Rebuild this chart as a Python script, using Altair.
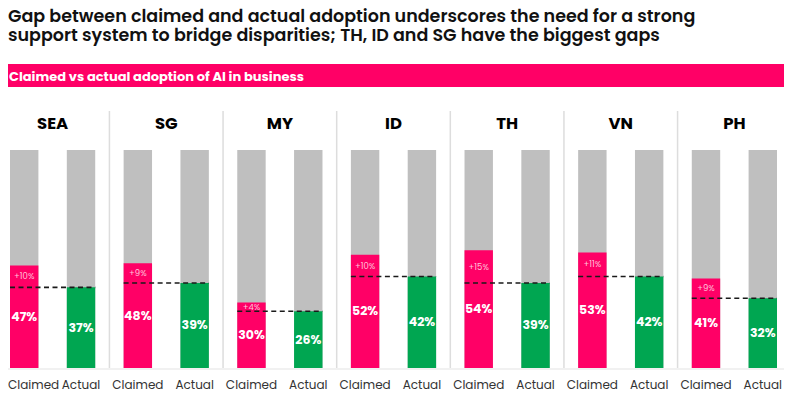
import altair as alt
import pandas as pd

# ---- data ----
countries = ["SEA", "SG", "MY", "ID", "TH", "VN", "PH"]
claimed = [47, 48, 30, 52, 54, 53, 41]
actual = [37, 39, 26, 42, 39, 42, 32]
gaps = [10, 9, 4, 10, 15, 11, 9]
types = ["Claimed", "Actual"]

title_lines = [
    "Gap between claimed and actual adoption underscores the need for a strong",
    "support system to bridge disparities; TH, ID and SG have the biggest gaps",
]
subtitle = "Claimed vs actual adoption of AI in business"

PINK = "#FF0066"
GREEN = "#00A651"
GRAY = "#BFBFBF"
FONT = "Poppins, Inter, sans-serif"

W, H = 776, 389

# ---- tables ----
keys = [f"{c}|{t}" for c in countries for t in types]
long_rows = []
for c, cl, ac in zip(countries, claimed, actual):
    long_rows.append({"country": c, "type": "Claimed", "key": f"{c}|Claimed", "value": cl})
    long_rows.append({"country": c, "type": "Actual", "key": f"{c}|Actual", "value": ac})
long_df = pd.DataFrame(long_rows)

country_df = pd.DataFrame({
    "country": countries,
    "claimed": claimed,
    "actual": actual,
    "gap": gaps,
    "ckey": [f"{c}|Claimed" for c in countries],
    "akey": [f"{c}|Actual" for c in countries],
})
sep_df = country_df.iloc[:-1]

xscale = alt.Scale(domain=keys, range=[2, 769], paddingInner=0.5, paddingOuter=0)
yscale = alt.Scale(domain=[0, 100], range=[360, 142])
STEP_HALF = 767 / 13.5 / 2

base = alt.Chart(long_df)

bg = base.mark_bar(color=GRAY).encode(
    x=alt.X("key:N", scale=xscale, axis=None),
    y=alt.Y(datum=100, scale=yscale, axis=None),
    y2=alt.datum(0),
)

bars = base.mark_bar().encode(
    x=alt.X("key:N", scale=xscale, axis=None),
    y=alt.Y("value:Q", scale=yscale, axis=None),
    y2=alt.datum(0),
    color=alt.Color("type:N", scale=alt.Scale(domain=types, range=[PINK, GREEN]), legend=None),
)

vlabels = base.transform_calculate(
    mid="datum.value / 2", lab="datum.value + '%'"
).mark_text(color="white", fontSize=12.5, fontWeight="bold", font=FONT, baseline="middle").encode(
    x=alt.X("key:N", scale=xscale, axis=None),
    y=alt.Y("mid:Q", scale=yscale, axis=None),
    text="lab:N",
)

cats = base.transform_filter(alt.datum.key != keys[0]).mark_text(
    color="#333333", fontSize=12, font=FONT, baseline="alphabetic").encode(
    x=alt.X("key:N", scale=xscale, axis=None),
    y=alt.value(381),
    text="type:N",
)
cats_first = base.transform_filter(alt.datum.key == keys[0]).mark_text(
    color="#333333", fontSize=12, font=FONT, baseline="alphabetic", align="left", dx=-2).encode(
    x=alt.X("key:N", scale=xscale, axis=None, bandPosition=0),
    y=alt.value(381),
    text="type:N",
)

cbase = alt.Chart(country_df)

gap_labels = cbase.transform_calculate(
    gmid="(datum.claimed + datum.actual) / 2", glab="'+' + datum.gap + '%'"
).mark_text(color="#FFC2DA", fontSize=8.5, font=FONT, baseline="middle").encode(
    x=alt.X("ckey:N", scale=xscale, axis=None),
    y=alt.Y("gmid:Q", scale=yscale, axis=None),
    text="glab:N",
)

dash = cbase.mark_rule(color="#1a1a1a", strokeWidth=1.6, strokeDash=[5, 3.5]).encode(
    x=alt.X("ckey:N", scale=xscale, axis=None, bandPosition=0),
    x2=alt.X2("akey:N", bandPosition=1),
    y=alt.Y("actual:Q", scale=yscale, axis=None),
)

panel_titles = cbase.mark_text(fontSize=16.5, fontWeight="bold", font=FONT, color="#000000",
                               baseline="alphabetic", dx=STEP_HALF).encode(
    x=alt.X("ckey:N", scale=xscale, axis=None),
    y=alt.value(121),
    text="country:N",
)

seps = alt.Chart(sep_df).mark_rule(color="#DDDDDD", strokeWidth=1.5, xOffset=STEP_HALF).encode(
    x=alt.X("akey:N", scale=xscale, axis=None),
    y=alt.value(103),
    y2=alt.value(360),
)

baseline_rule = alt.Chart(pd.DataFrame({"v": [0]})).mark_rule(color="#E3E3E3", strokeWidth=1, yOffset=1).encode(
    x=alt.value(0), x2=alt.value(W),
    y=alt.Y("v:Q", scale=yscale, axis=None),
)

one = pd.DataFrame({"a": [1]})
title = alt.Chart(one).mark_text(align="left", baseline="alphabetic", fontSize=17.5, fontWeight=600,
                                 lineHeight=18.5, font=FONT, color="#111111").encode(
    x=alt.value(0), y=alt.value(14), text=alt.value(title_lines))
header = alt.Chart(one).mark_rect(color=PINK).encode(
    x=alt.value(0), x2=alt.value(W), y=alt.value(56), y2=alt.value(79))
header_text = alt.Chart(one).mark_text(align="left", baseline="alphabetic", fontSize=13, fontWeight="bold",
                                        font=FONT, color="white").encode(
    x=alt.value(1), y=alt.value(72.5), text=alt.value(subtitle))

chart = alt.layer(
    baseline_rule, seps, bg, bars, vlabels, gap_labels, dash, panel_titles, cats, cats_first,
    header, header_text, title,
).properties(
    width=W, height=H, padding=0,
    autosize=alt.AutoSizeParams(type="none"),
).configure_view(stroke=None)

chart.save("out.html", embed_options={"renderer": "svg", "actions": False})
